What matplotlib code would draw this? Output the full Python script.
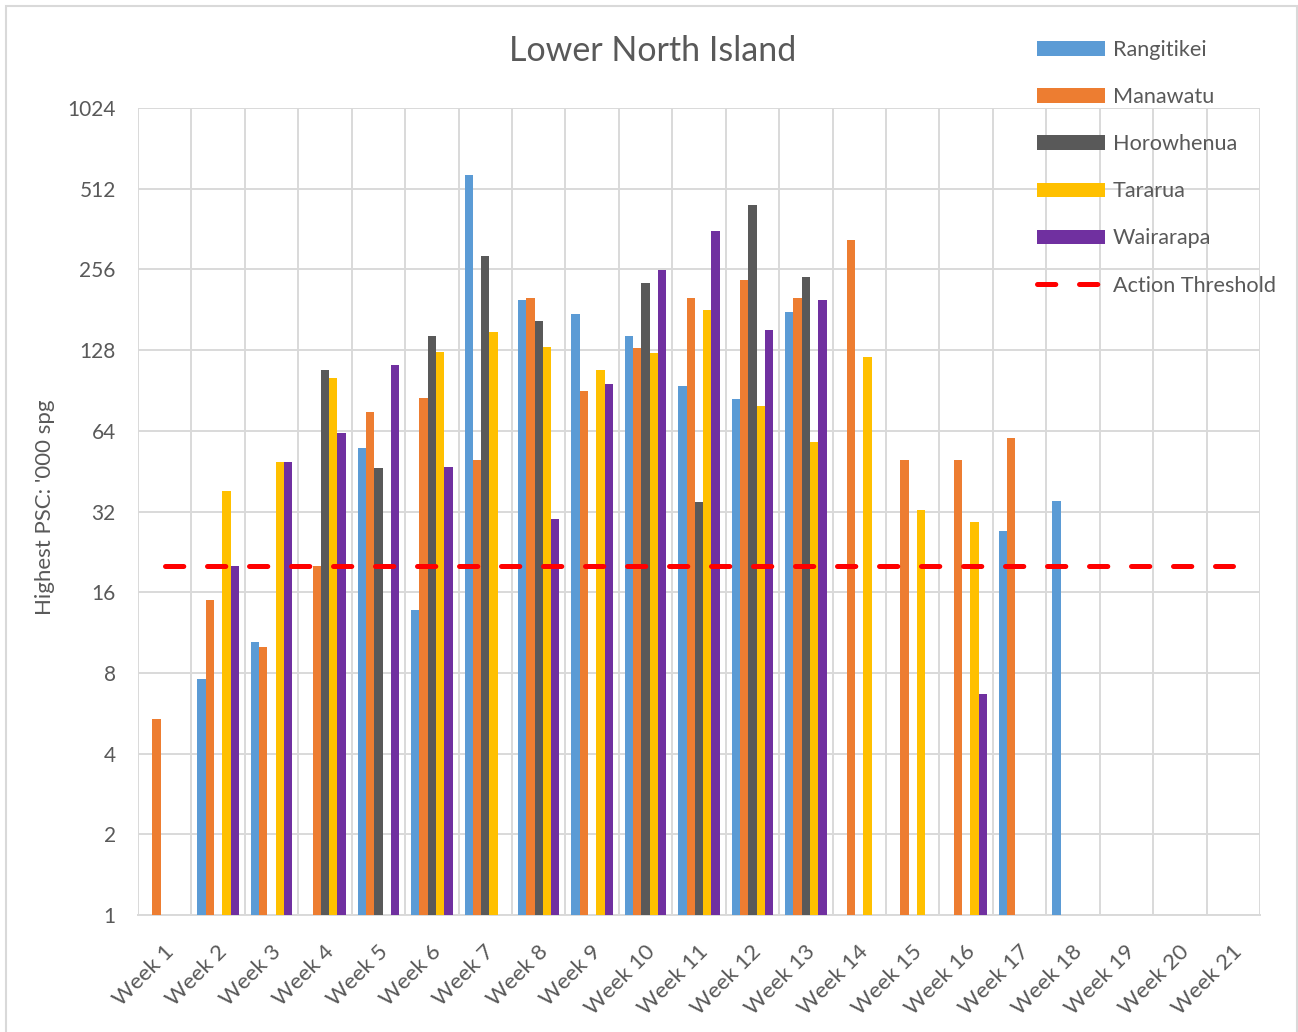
import numpy as np
import matplotlib
matplotlib.use("Agg")
import matplotlib.pyplot as plt
import matplotlib.transforms as mtransforms
from matplotlib.patches import Patch, Rectangle
from matplotlib.lines import Line2D

nan = np.nan

weeks = [f"Week {i}" for i in range(1, 22)]
series_names = ["Rangitikei", "Manawatu", "Horowhenua", "Tararua", "Wairarapa"]
colors = ["#5B9BD5", "#ED7D31", "#595959", "#FFC000", "#7030A0"]

rangitikei = [nan, 7.6, 10.4, nan, 55, 13.7, 576, 197, 174, 145, 94, 84, 178,
              nan, nan, nan, 27, 35, nan, nan, nan]
manawatu = [5.4, 15, 10, 20, 75, 85, 50, 200, 90, 130, 200, 234, 200,
            330, 50, 50, 60, nan, nan, nan, nan]
horowhenua = [nan, nan, nan, 108, 46.5, 145, 287, 165, nan, 228, 34.7, 444, 239,
              nan, nan, nan, nan, nan, nan, nan, nan]
tararua = [nan, 38, 49, 101, nan, 126, 150, 131, 108, 125, 180, 79, 58,
           121, 32.3, 29.2, nan, nan, nan, nan, nan]
wairarapa = [nan, 20, 49, 63, 113, 47, nan, 30, 96, 254, 355, 152, 196,
             nan, nan, 6.7, nan, nan, nan, nan, nan]
threshold = [20] * len(weeks)

yticks = [1, 2, 4, 8, 16, 32, 64, 128, 256, 512, 1024]

plt.rcParams["font.family"] = ["Lato", "DejaVu Sans"]
text_color = "#595959"
grid_color = "#D9D9D9"

fig = plt.figure(figsize=(12.98, 10.32), dpi=100)
fig.patches.append(Rectangle((6 / 1298, -0.01), (1297 - 6) / 1298, 1 - 6 / 1032 + 0.01,
                             transform=fig.transFigure, fill=False,
                             edgecolor=grid_color, linewidth=1.5))
ax = fig.add_axes([138 / 1298, 1 - 915 / 1032, (1260 - 138) / 1298, (915 - 108) / 1032])

x = np.arange(len(weeks))
w = 0.1555
all_series = [rangitikei, manawatu, horowhenua, tararua, wairarapa]
for i, (vals, name, c) in enumerate(zip(all_series, series_names, colors)):
    ax.bar(x + (i - 2) * w, vals, width=w, color=c, label=name, zorder=3)

ax.plot(x, threshold, color="#FF0000", lw=3.6, linestyle=(0, (3.66, 4.74)),
        dash_capstyle="round", zorder=4, label="Action Threshold")

ax.set_yscale("log", base=2)
ax.set_ylim(1, 1024)
ax.set_yticks(yticks)
ax.set_yticklabels([str(v) for v in yticks])
ax.yaxis.set_minor_locator(matplotlib.ticker.NullLocator())
ax.set_xlim(-0.5, len(weeks) - 0.5)
ax.set_xticks(x)
ax.set_xticks(np.arange(len(weeks) + 1) - 0.5, minor=True)
ax.set_xticklabels(weeks, rotation=45, ha="right", va="center", rotation_mode="anchor")

ax.grid(axis="y", which="major", color=grid_color, lw=1.4, zorder=0)
ax.grid(axis="x", which="minor", color=grid_color, lw=1.4, zorder=0)
ax.tick_params(which="both", length=0, colors=text_color, labelsize=15)
ax.tick_params(axis="y", pad=16)
ax.tick_params(axis="x", pad=24, labelsize=16)
offset = mtransforms.ScaledTranslation(6 / 100, 0, fig.dpi_scale_trans)
for lbl in ax.get_xticklabels():
    lbl.set_transform(lbl.get_transform() + offset)

for side in ["top", "left", "right"]:
    ax.spines[side].set_visible(False)
ax.spines["bottom"].set_color(grid_color)
ax.spines["bottom"].set_linewidth(1.4)

fig.text(653 / 1298, 1 - 51 / 1032, "Lower North Island", ha="center", va="center",
         fontsize=24.5, color=text_color)
fig.text(45 / 1298, 1 - 507 / 1032, "Highest PSC: '000 spg", ha="center", va="center",
         rotation=90, fontsize=16, color=text_color)

handles = [Patch(facecolor=c) for c in colors]
handles.append(Line2D([], [], color="#FF0000", lw=3.6, linestyle=(0, (3.66, 4.74)),
                      dash_capstyle="round"))
labels = series_names + ["Action Threshold"]
fig.legend(handles, labels, loc="upper left", bbox_to_anchor=(1022 / 1298, 1 - 25 / 1032),
           frameon=False, fontsize=15.6, labelcolor=text_color, handlelength=3.13,
           handleheight=0.65, handletextpad=0.37, labelspacing=1.25, borderpad=0.2)

fig.savefig("out.png", dpi=100)
